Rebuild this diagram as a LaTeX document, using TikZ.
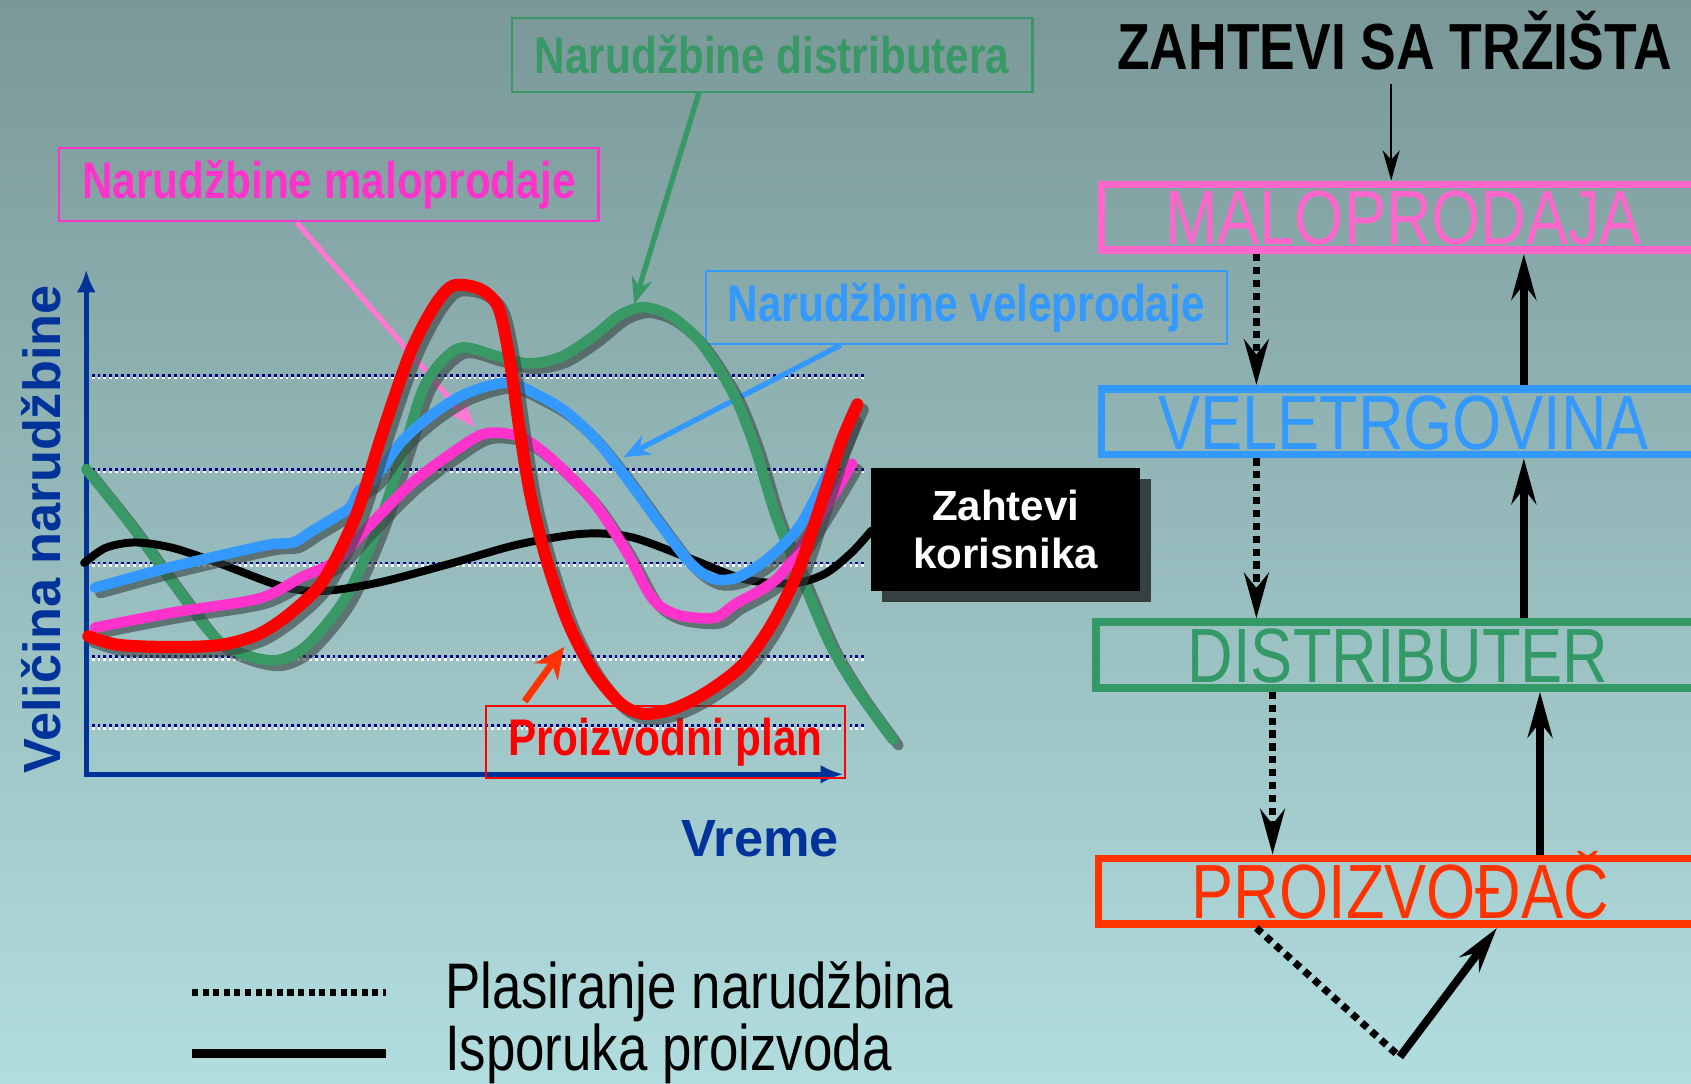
\documentclass[tikz,border=0pt]{standalone}
\usepackage{fontspec}
\setmainfont{Liberation Sans}[FakeStretch=0.82]
\newfontfamily\wideface{Liberation Sans}
\usetikzlibrary{positioning,arrows.meta,calc}

\definecolor{bgtop}{RGB}{122,152,152}
\definecolor{bgbot}{RGB}{178,221,223}
\definecolor{axisblue}{RGB}{0,51,153}
\definecolor{gridblue}{RGB}{0,0,130}
\definecolor{grn}{RGB}{56,152,102}
\definecolor{grnbox}{RGB}{51,153,102}
\definecolor{pnk}{RGB}{255,51,204}
\definecolor{pnkptr}{RGB}{255,120,210}
\definecolor{pnkbox}{RGB}{255,102,204}
\definecolor{blu}{RGB}{51,153,255}
\definecolor{orng}{RGB}{255,51,0}
\definecolor{shd}{RGB}{55,65,65}

\begin{document}
\begin{tikzpicture}[x=0.1mm,y=-0.1mm,>=Latex]
\tikzstyle{gridb}=[gridblue,line width=0.75pt,dash pattern=on 0.75pt off 0.8pt]
\tikzstyle{gridw}=[white,line width=0.75pt,dash pattern=on 0.75pt off 0.8pt]
\tikzstyle{axisln}=[axisblue,line width=1.2pt,-{Latex[length=6pt,width=5pt]}]
\tikzstyle{axislbl}=[axisblue,inner sep=0pt,font=\fontsize{13.8pt}{16pt}\selectfont\wideface\bfseries]
\tikzstyle{crv}=[line width=2.8pt,line join=round,line cap=round]
\tikzstyle{lblbox}=[draw,line width=0.6pt,inner sep=0pt,minimum height=6.8mm,font=\fontsize{13.6pt}{16pt}\selectfont\bfseries]
\tikzstyle{ptr}=[line width=1.4pt,-{Stealth[length=7pt,width=5.5pt]}]
\tikzstyle{zkbox}=[fill=black,text=white,align=center,inner sep=0pt,minimum width=24.9mm,minimum height=11.4mm,font=\fontsize{11.1pt}{12.8pt}\selectfont\wideface\bfseries]
\tikzstyle{flowbox}=[draw,line width=2pt,anchor=west,minimum width=56mm,minimum height=6.1mm,inner sep=0pt,text height=5.1mm,text depth=0pt,font=\fontsize{20.3pt}{24pt}\selectfont]
\tikzstyle{orderln}=[line width=1.9pt,dash pattern=on 1.9pt off 1.5pt,-{Stealth[length=12pt,width=6.5pt,inset=4pt]}]
\tikzstyle{delivln}=[line width=2.1pt,-{Stealth[length=12pt,width=6.5pt,inset=4pt]}]
\tikzstyle{legtxt}=[inner sep=0pt,font=\fontsize{17pt}{20pt}\selectfont]

% background
\shade[top color=bgtop,bottom color=bgbot] (0,0) rectangle (1568,1005);
\useasboundingbox (0,0) rectangle (1568,1005);

% chart grid and axes
\foreach \gy in {348,435,522,609,673}{
  \draw[gridw] (85,\gy+2.5) -- (803,\gy+2.5);
  \draw[gridb] (85,\gy) -- (803,\gy);
}
\draw[axisln] (80,720) -- (80,250);
\draw[axisln] (78,718) -- (782,718);
\node[axislbl,rotate=90] (ylbl) at (38,491) {Veličina narudžbine};
\node[axislbl] (xlbl) at (705,778) {Vreme};

% callouts
\node[lblbox,draw=grn,text=grn,minimum width=48.3mm] (distlbl) at (716,51) {Narudžbine distributera};
\node[lblbox,draw=pnk,text=pnk,minimum width=50mm] (retlbl) at (305,171) {Narudžbine maloprodaje};
\node[lblbox,draw=blu,text=blu,minimum width=48.3mm] (whlbl) at (896,285) {Narudžbine veleprodaje};
\node[lblbox,draw=red,text=red,minimum width=33.3mm,minimum height=6.7mm] (planlbl) at (617,688) {Proizvodni plan};
\coordinate (disttip) at (588,282);
\coordinate (rettip) at (440,396);
\coordinate (whtip) at (578,424);
\coordinate (plantip) at (523,600);
\draw[ptr,grn] ($(distlbl.south west)!0.36!(distlbl.south east)$) -- (disttip);
\draw[ptr,pnkptr] ($(retlbl.south west)!0.44!(retlbl.south east)$) -- (rettip);
\draw[ptr,blu] ($(whlbl.south west)!0.26!(whlbl.south east)$) -- (whtip);
\draw[ptr,orng,line width=1.8pt,-{Stealth[length=8pt,width=7.5pt]}] ([xshift=3.7mm,yshift=0.3mm]planlbl.north west) -- (plantip);

% curves
\foreach \dx/\cl/\op in {5/shd/0.6,0/grn/1}
  \draw[crv,draw=\cl,opacity=\op,shift={(\dx,\dx)}] plot[smooth] coordinates {(80,435) (120,485) (160,540) (200,592) (230,608) (258,612) (285,598) (320,555) (350,490) (375,415) (395,355) (425,323) (460,330) (490,337) (520,331) (550,312) (575,292) (597,285) (622,293) (650,318) (680,365) (700,415) (720,480) (745,540) (770,598) (795,640) (828,686)};
\draw[crv,line width=2.1pt] plot[smooth] coordinates {(78,522) (98,508) (125,503) (160,508) (205,523) (262,544) (300,548) (352,540) (420,522) (480,505) (540,495) (585,498) (640,518) (690,537) (735,541) (765,532) (790,512) (808,492)};
\foreach \dx/\cl/\op in {5/shd/0.6,0/pnk/1}
  \draw[crv,draw=\cl,opacity=\op,shift={(\dx,\dx)}] plot[smooth] coordinates {(88,582) (160,568) (240,555) (280,535) (312,520) (342,488) (382,448) (422,418) (450,402) (482,405) (512,426) (550,465) (580,510) (605,555) (628,570) (662,573) (682,560) (722,535) (760,480) (790,430)};
\foreach \dx/\cl/\op in {5/shd/0.6,0/blu/1}
  \draw[crv,draw=\cl,opacity=\op,shift={(\dx,\dx)}] plot[smooth] coordinates {(88,545) (150,528) (200,516) (250,505) (272,503) (290,492) (310,480) (325,470) (333,455) (348,443) (372,410) (400,385) (432,365) (470,355) (500,367) (525,382) (552,407) (580,442) (610,483) (640,522) (662,537) (685,535) (712,518) (740,490) (762,450) (780,412) (790,386)};
\foreach \dx/\cl/\op in {5/shd/0.6,0/red/1}
  \draw[crv,line width=3.2pt,draw=\cl,opacity=\op,shift={(\dx,\dx)}] plot[smooth] coordinates {(82,590) (110,598) (160,600) (205,598) (240,588) (270,568) (300,538) (330,478) (355,400) (380,328) (402,285) (420,265) (445,268) (462,285) (472,330) (482,400) (492,460) (507,520) (527,578) (550,622) (575,652) (597,662) (625,657) (655,642) (688,617) (715,580) (740,530) (762,465) (780,410) (795,375)};

\fill[shd] (818,444) rectangle (1067,558);
\node[zkbox] (zk) at (932.5,491) {Zahtevi\\korisnika};

% supply chain
\node[inner sep=0pt,font=\fontsize{17.2pt}{20pt}\selectfont\bfseries] (mkt) at (1293,38) {ZAHTEVI SA TRŽIŠTA};
\node[flowbox,draw=pnkbox,text=pnkbox] (mp) at (1018,201.5) {MALOPRODAJA};
\node[flowbox,draw=blu,text=blu] (vt) at (1018,391) {VELETRGOVINA};
\node[flowbox,draw=grnbox,text=grnbox] (ds) at (1013,607.5) {DISTRIBUTER};
\node[flowbox,draw=orng,text=orng] (pr) at (1015,826.5) {PROIZVOĐAČ};

\draw[line width=0.6pt,-{Stealth[length=8pt,width=4.5pt,inset=2.5pt]}] ([xshift=-0.3mm,yshift=-1.2mm]mkt.south) -- ([xshift=-0.3mm]mkt.south |- mp.north);
\coordinate (o1) at ([xshift=14.7mm]mp.south west);
\draw[orderln] (o1) -- (o1 |- vt.north);
\coordinate (o2) at ([xshift=14.7mm]vt.south west);
\draw[orderln] (o2) -- (o2 |- ds.north);
\coordinate (o3) at ([xshift=16.7mm]ds.south west);
\draw[orderln] (o3) -- (o3 |- pr.north);
\coordinate (o4) at ([xshift=15mm]pr.south west);
\coordinate (vtx) at (1298,980);
\draw[orderln,-] (o4) -- (vtx);
\coordinate (d4) at ([xshift=37.3mm]pr.south west);
\draw[delivln] (vtx) -- (d4);
\coordinate (d3) at ([xshift=41.3mm]pr.north west);
\draw[delivln] (d3) -- (d3 |- ds.south);
\coordinate (d2) at ([xshift=40mm]ds.north west);
\draw[delivln] (d2) -- (d2 |- vt.south);
\coordinate (d1) at ([xshift=39.5mm]vt.north west);
\draw[delivln] (d1) -- (d1 |- mp.south);

% legend
\coordinate (lg1a) at (178,920);
\coordinate (lg1b) at (358,920);
\draw[line width=1.8pt,dash pattern=on 1.6pt off 1.2pt] (lg1a) -- (lg1b);
\node[legtxt,right=5.4mm of lg1b] (lg1) {Plasiranje narudžbina};
\coordinate (lg2a) at (178,977);
\coordinate (lg2b) at (358,977);
\draw[line width=2.3pt] (lg2a) -- (lg2b);
\node[legtxt,right=5.4mm of lg2b] (lg2) {Isporuka proizvoda};
\end{tikzpicture}
\end{document}
